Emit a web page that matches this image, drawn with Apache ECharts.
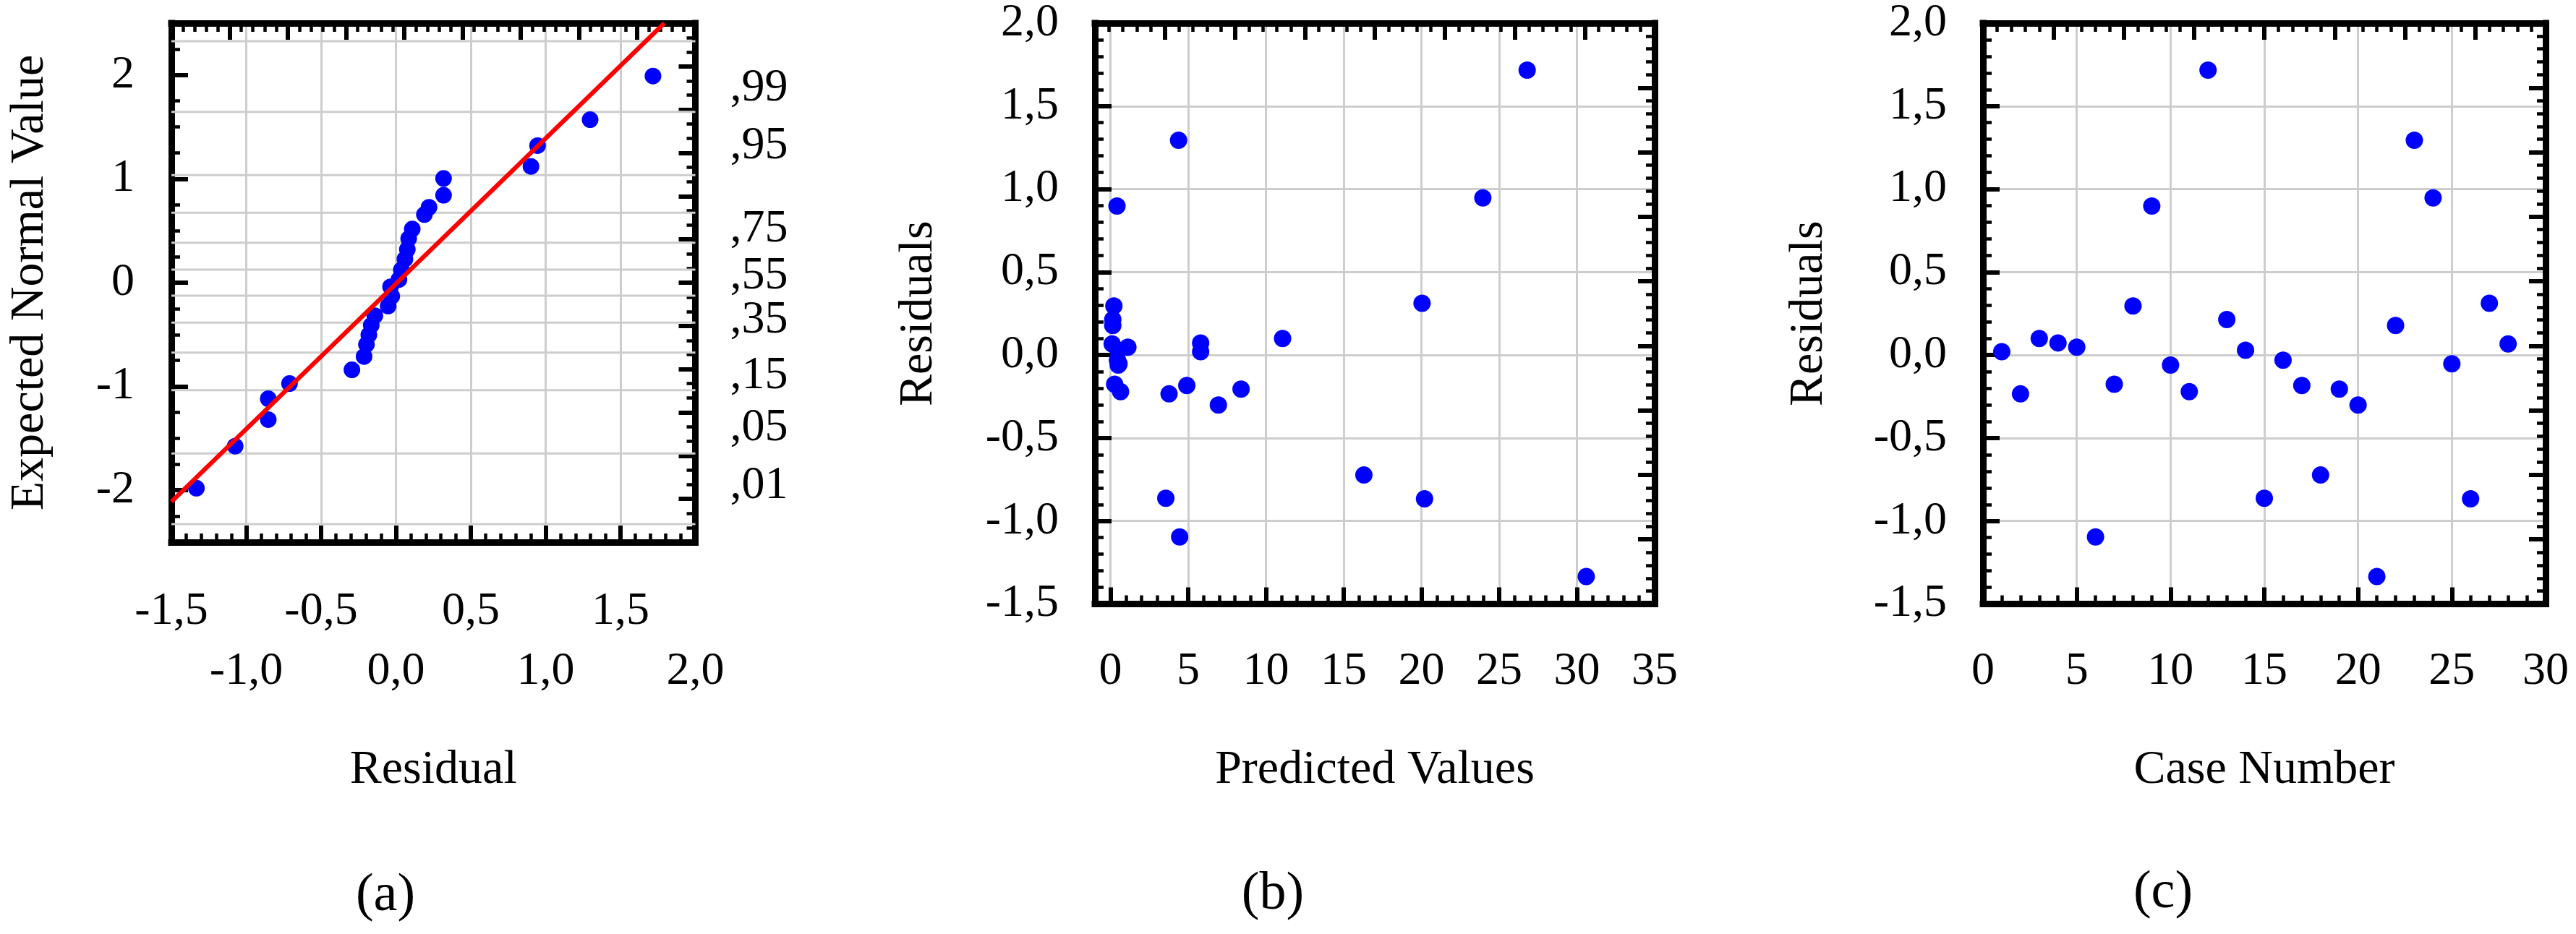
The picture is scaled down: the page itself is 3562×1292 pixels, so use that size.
<!DOCTYPE html>
<html>
<head>
<meta charset="utf-8">
<script src="https://cdn.jsdelivr.net/npm/echarts@6/dist/echarts.min.js"></script>
<style>
html, body { margin: 0; padding: 0; background: #fff; }
#chart { width: 3562px; height: 1292px; }
</style>
</head>
<body>
<div id="chart"></div>
<script>
// (a) normal probability plot of residuals
var residualSorted = [1.717, 1.297, 0.946, 0.902, 0.318, 0.318, 0.221, 0.19, 0.109, 0.085, 0.076, 0.06, 0.036, 0.02,
  -0.036, -0.028, -0.052, -0.141, -0.165, -0.181, -0.197, -0.213, -0.294, -0.711, -0.853, -0.853, -1.074, -1.333];
var expectedNormal = [1.99, 1.57, 1.32, 1.12, 1.004, 0.842, 0.726, 0.656, 0.517, 0.424, 0.32, 0.227, 0.123, 0.03,
  -0.04, -0.132, -0.225, -0.318, -0.41, -0.503, -0.596, -0.712, -0.84, -0.972, -1.118, -1.319, -1.575, -1.98];
// red reference line end points
var fitLineX = [-1.5, 1.793];
var fitLineY = [-2.11, 2.5];
// probability grid lines (normal quantiles) and right hand labels
var probGridZ = [2.326, 1.645, 1.036, 0.674, 0.385, 0.126, -0.126, -0.385, -0.674, -1.036, -1.645, -2.326];
var probLabelZ = [2.326, 1.645, 0.674, 0.126, -0.385, -1.036, -1.645, -2.326];
var probLabelText = [',99', ',95', ',75', ',55', ',35', ',15', ',05', ',01'];

// (b) and (c): residuals by case
var caseNumber = [1, 2, 3, 4, 5, 6, 7, 8, 9, 10, 11, 12, 13, 14, 15, 16, 17, 18, 19, 20, 21, 22, 23, 24, 25, 26, 27, 28];
var predicted = [5.8, 3.77, 11.07, 5.8, 1.12, 4.45, 0.27, 0.22, 0.42, 0.5, 0.65, 26.8, 0.15, 0.5,
  3.56, 0.45, 4.91, 16.3, 8.4, 6.94, 30.6, 0.15, 4.38, 23.95, 0.55, 20.2, 20.04, 0.11];
var residuals = [0.02, -0.234, 0.10, 0.073, 0.047, -1.096, -0.176, 0.296, 0.898, -0.06, -0.22, 1.717, 0.214, 0.029,
  -0.863, -0.031, -0.183, -0.723, -0.205, -0.301, -1.335, 0.178, 1.294, 0.947, -0.053, -0.866, 0.312, 0.067];

var panelTags = ['(a)', '(b)', '(c)'];

var SERIF = "'Liberation Serif', 'Times New Roman', serif";
var BLACK = '#000000';
var BLUE = '#0000ff';
var RED = '#ff0000';
var GRID_GRAY = '#cdcdcd';

function zip(xs, ys) {
  var out = [];
  for (var i = 0; i < xs.length; i++) out.push([xs[i], ys[i]]);
  return out;
}
function commaNum(v, digits) {
  return v.toFixed(digits).replace('.', ',');
}
function isHalfStep(v) {
  return Math.abs(Math.round(v * 10)) % 10 === 5;
}

// horizontal probability lines, broken with NaN between them
var probGridData = [];
for (var i = 0; i < probGridZ.length; i++) {
  probGridData.push([-1.5, probGridZ[i]], [2.0, probGridZ[i]], [2.0, NaN]);
}

// right hand probability scale of (a) is drawn a bit compressed in the source
var probAxisMin = -2.981;
var probAxisMax = 3.087;

var noLine = { show: false, onZero: false };
var frameLine = { show: true, onZero: false, lineStyle: { color: BLACK, width: 9, cap: 'square' } };
var majorTick = { show: true, inside: true, length: 23, lineStyle: { color: BLACK, width: 6 } };
var minorOnlyTick = { show: true, inside: true, length: 12, lineStyle: { color: BLACK, width: 4.5 } };
function minorTicks(n) {
  return { show: true, splitNumber: n, length: 12, lineStyle: { color: BLACK, width: 4.5 } };
}
var gridSplit = { show: true, showMinLine: false, showMaxLine: false, lineStyle: { color: GRID_GRAY, width: 3, type: 'solid' } };
var nameStyle = { color: BLACK, fontFamily: SERIF, fontSize: 66 };

function labels(margin, formatter, extra) {
  return Object.assign({
    show: true, margin: margin, color: BLACK, fontFamily: SERIF, fontSize: 64,
    formatter: formatter, showMinLabel: true, showMaxLabel: true
  }, extra || {});
}
function axis(o) {
  return Object.assign({
    type: 'value',
    axisLine: noLine,
    axisTick: { show: false },
    minorTick: { show: false },
    axisLabel: { show: false },
    splitLine: { show: false },
    nameLocation: 'middle',
    nameTextStyle: nameStyle,
    nameMoveOverlap: false
  }, o);
}
function frame(left, top, width, height) {
  return { left: left, top: top, width: width, height: height, containLabel: false };
}

var chart = echarts.init(document.getElementById('chart'));
chart.setOption({
  backgroundColor: '#ffffff',
  animation: false,
  textStyle: { fontFamily: SERIF, color: BLACK },
  grid: [
    frame(237, 32, 724.5, 718),
    frame(1514, 27, 774, 808.5),
    frame(2742, 27, 778, 808.5)
  ],
  xAxis: [
    // (a) bottom, first row of labels
    axis({ gridIndex: 0, position: 'bottom', min: -1.5, max: 2.0, interval: 0.5,
      axisLine: frameLine, axisTick: majorTick, minorTick: minorTicks(5), splitLine: gridSplit,
      axisLabel: labels(64, function (v) { return isHalfStep(v) ? commaNum(v, 1) : ''; }),
      name: 'Residual', nameGap: 283 }),
    // (a) bottom, second row of labels
    axis({ gridIndex: 0, position: 'bottom', min: -1.5, max: 2.0, interval: 0.5,
      axisLabel: labels(147, function (v) { return isHalfStep(v) ? '' : commaNum(v, 1); }) }),
    // (a) top ticks
    axis({ gridIndex: 0, position: 'top', min: 0, max: 9, interval: 1,
      axisLine: frameLine, axisTick: majorTick, minorTick: minorTicks(5) }),
    // (b) bottom
    axis({ gridIndex: 1, position: 'bottom', min: -1, max: 35, splitNumber: 7,
      axisLine: frameLine, axisTick: majorTick, splitLine: gridSplit,
      axisLabel: labels(62, function (v) { return v < 0 ? '' : String(v); }),
      name: 'Predicted Values', nameGap: 197 }),
    // (b) bottom minor ticks
    axis({ gridIndex: 1, position: 'bottom', min: -1, max: 35, interval: 1, axisTick: minorOnlyTick }),
    // (b) top ticks
    axis({ gridIndex: 1, position: 'top', min: 0, max: 8, interval: 1,
      axisLine: frameLine, axisTick: majorTick, minorTick: minorTicks(5) }),
    // (c) bottom
    axis({ gridIndex: 2, position: 'bottom', min: 0, max: 30, interval: 5,
      axisLine: frameLine, axisTick: majorTick, minorTick: minorTicks(5), splitLine: gridSplit,
      axisLabel: labels(62, function (v) { return String(v); }),
      name: 'Case Number', nameGap: 197 }),
    // (c) top ticks
    axis({ gridIndex: 2, position: 'top', min: 0, max: 8, interval: 1,
      axisLine: frameLine, axisTick: majorTick, minorTick: minorTicks(5) })
  ],
  yAxis: [
    // (a) left
    axis({ gridIndex: 0, position: 'left', min: -2.5, max: 2.5, splitNumber: 5,
      axisLine: frameLine, axisTick: majorTick,
      axisLabel: labels(51, function (v) { return Number.isInteger(v) ? String(v) : ''; }),
      name: 'Expected Normal Value', nameGap: 162 }),
    // (a) left minor ticks
    axis({ gridIndex: 0, position: 'left', min: -2.5, max: 2.5, interval: 0.25, axisTick: minorOnlyTick }),
    // (a) right ticks
    axis({ gridIndex: 0, position: 'right', min: 0, max: 12, interval: 1,
      axisLine: frameLine, axisTick: majorTick, minorTick: minorTicks(3) }),
    // (a) right probability labels
    axis({ gridIndex: 0, position: 'right', min: probAxisMin, max: probAxisMax,
      axisLabel: labels(48, function (v) {
        for (var k = 0; k < probLabelZ.length; k++) {
          if (Math.abs(probLabelZ[k] - v) < 1e-6) return probLabelText[k];
        }
        return '';
      }, { customValues: probLabelZ }) }),
    // (b) left
    axis({ gridIndex: 1, position: 'left', min: -1.5, max: 2, interval: 0.5,
      axisLine: frameLine, axisTick: majorTick, minorTick: minorTicks(5), splitLine: gridSplit,
      axisLabel: labels(50, function (v) { return commaNum(v, 1); }),
      name: 'Residuals', nameGap: 210 }),
    // (b) right ticks
    axis({ gridIndex: 1, position: 'right', min: 0, max: 9, interval: 1,
      axisLine: frameLine, axisTick: majorTick, minorTick: minorTicks(5) }),
    // (c) left
    axis({ gridIndex: 2, position: 'left', min: -1.5, max: 2, interval: 0.5,
      axisLine: frameLine, axisTick: majorTick, minorTick: minorTicks(5), splitLine: gridSplit,
      axisLabel: labels(50, function (v) { return commaNum(v, 1); }),
      name: 'Residuals', nameGap: 207 }),
    // (c) right ticks
    axis({ gridIndex: 2, position: 'right', min: 0, max: 9, interval: 1,
      axisLine: frameLine, axisTick: majorTick, minorTick: minorTicks(5) })
  ],
  graphic: [
    { type: 'text', x: 533, y: 1240, style: { text: panelTags[0], font: '74px ' + SERIF, fill: BLACK,
      align: 'center', verticalAlign: 'middle', textAlign: 'center', textVerticalAlign: 'middle' } },
    { type: 'text', x: 1760, y: 1238, style: { text: panelTags[1], font: '74px ' + SERIF, fill: BLACK,
      align: 'center', verticalAlign: 'middle', textAlign: 'center', textVerticalAlign: 'middle' } },
    { type: 'text', x: 2991, y: 1236, style: { text: panelTags[2], font: '74px ' + SERIF, fill: BLACK,
      align: 'center', verticalAlign: 'middle', textAlign: 'center', textVerticalAlign: 'middle' } }
  ],
  series: [
    { name: 'probability grid', type: 'line', xAxisIndex: 0, yAxisIndex: 0, data: probGridData,
      symbol: 'none', silent: true, connectNulls: false, z: 1,
      lineStyle: { color: GRID_GRAY, width: 3 } },
    { name: 'normal plot', type: 'scatter', xAxisIndex: 0, yAxisIndex: 0, data: zip(residualSorted, expectedNormal),
      symbolSize: 23, itemStyle: { color: BLUE, opacity: 1 }, z: 2 },
    { name: 'reference line', type: 'line', xAxisIndex: 0, yAxisIndex: 0, data: zip(fitLineX, fitLineY),
      symbol: 'none', silent: true, z: 3, lineStyle: { color: RED, width: 6 } },
    { name: 'vs predicted', type: 'scatter', xAxisIndex: 3, yAxisIndex: 4, data: zip(predicted, residuals),
      symbolSize: 24, itemStyle: { color: BLUE, opacity: 1 } },
    { name: 'vs case', type: 'scatter', xAxisIndex: 6, yAxisIndex: 6, data: zip(caseNumber, residuals),
      symbolSize: 24, itemStyle: { color: BLUE, opacity: 1 } }
  ]
});
</script>
</body>
</html>
